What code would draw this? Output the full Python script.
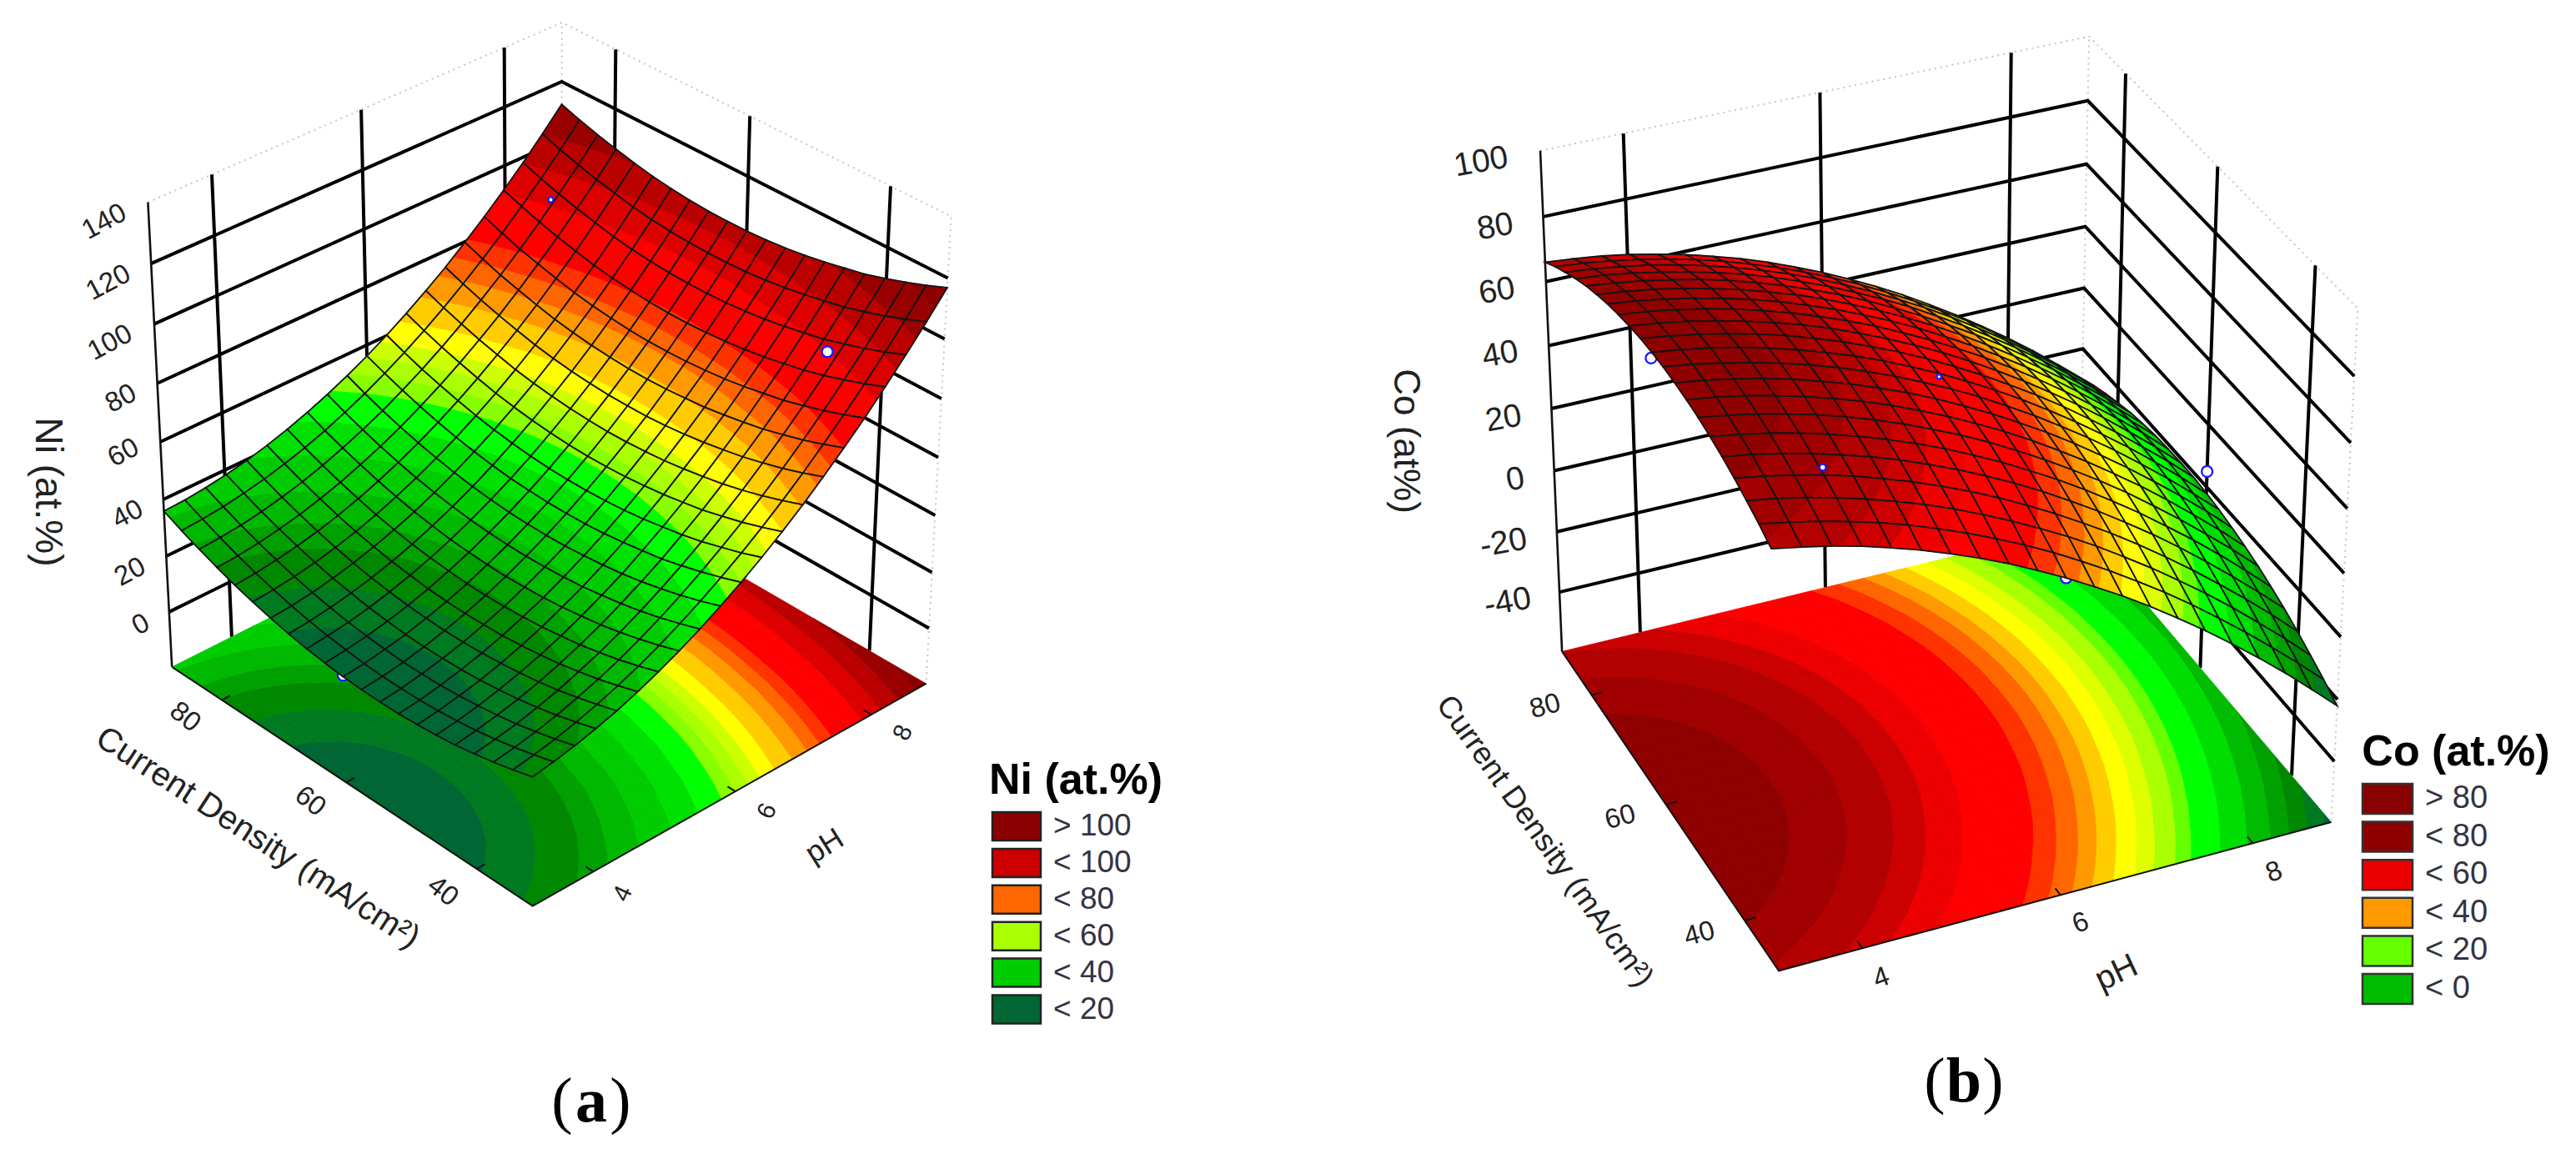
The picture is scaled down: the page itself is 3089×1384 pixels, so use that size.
import numpy as np, altair as alt

PH_TICKS = [4, 6, 8]
CD_TICKS = [40, 60, 80]
N = 20

# Surface heights: rows run over pH (low to high), columns over current density (low to high)
NI_GRID = [
[24.9,23.0,21.4,20.0,18.8,18.0,17.4,17.0,16.9,17.1,17.5,18.2,19.1,20.3,21.8,23.5,25.4,27.7,30.2,32.9,35.9],
[26.1,24.2,22.5,21.1,19.9,19.0,18.3,17.9,17.8,17.9,18.3,19.0,19.9,21.0,22.4,24.1,26.0,28.2,30.7,33.4,36.3],
[27.7,25.7,24.0,22.5,21.3,20.4,19.7,19.2,19.1,19.1,19.5,20.1,20.9,22.1,23.4,25.1,27.0,29.1,31.5,34.2,37.1],
[29.6,27.6,25.8,24.3,23.0,22.1,21.3,20.9,20.7,20.7,21.0,21.6,22.4,23.5,24.8,26.4,28.3,30.4,32.7,35.4,38.2],
[31.8,29.8,28.0,26.4,25.1,24.2,23.4,22.9,22.6,22.6,22.9,23.4,24.2,25.2,26.5,28.1,29.9,32.0,34.3,36.9,39.7],
[34.5,32.4,30.5,29.0,27.6,26.6,25.8,25.2,25.0,24.9,25.1,25.6,26.4,27.3,28.6,30.1,31.9,34.0,36.2,38.8,41.6],
[37.5,35.3,33.4,31.8,30.4,29.4,28.5,28.0,27.6,27.5,27.7,28.2,28.9,29.8,31.0,32.5,34.3,36.3,38.5,41.0,43.8],
[40.8,38.6,36.7,35.0,33.6,32.6,31.7,31.0,30.7,30.5,30.7,31.1,31.7,32.7,33.8,35.3,37.0,39.0,41.2,43.6,46.4],
[44.5,42.3,40.3,38.6,37.2,36.1,35.1,34.5,34.1,33.9,34.0,34.4,35.0,35.9,37.0,38.4,40.1,42.0,44.2,46.6,49.3],
[48.6,46.3,44.3,42.6,41.1,39.9,39.0,38.3,37.8,37.6,37.7,38.0,38.6,39.4,40.5,41.9,43.5,45.4,47.5,49.9,52.6],
[53.0,50.7,48.7,46.9,45.3,44.2,43.2,42.4,41.9,41.7,41.7,42.0,42.5,43.3,44.4,45.7,47.3,49.2,51.3,53.6,56.2],
[57.8,55.4,53.4,51.5,50.0,48.8,47.7,46.9,46.4,46.1,46.1,46.3,46.8,47.6,48.6,49.9,51.5,53.3,55.3,57.6,60.2],
[62.9,60.5,58.4,56.6,54.9,53.7,52.6,51.8,51.2,50.9,50.8,51.0,51.5,52.2,53.2,54.4,56.0,57.8,59.8,62.0,64.6],
[68.4,66.0,63.8,61.9,60.3,59.0,57.9,57.0,56.4,56.0,55.9,56.1,56.5,57.2,58.1,59.3,60.9,62.6,64.6,66.8,69.3],
[74.3,71.8,69.6,67.7,66.0,64.7,63.5,62.6,61.9,61.5,61.4,61.5,61.9,62.5,63.4,64.6,66.1,67.8,69.7,71.9,74.3],
[80.5,78.0,75.7,73.8,72.0,70.7,69.5,68.5,67.9,67.4,67.2,67.3,67.7,68.2,69.1,70.2,71.7,73.4,75.2,77.4,79.8],
[87.0,84.5,82.2,80.2,78.4,77.1,75.8,74.8,74.1,73.6,73.4,73.4,73.7,74.3,75.1,76.2,77.7,79.3,81.1,83.2,85.6],
[94.0,91.4,89.1,87.0,85.2,83.8,82.5,81.5,80.7,80.2,79.9,79.9,80.2,80.7,81.5,82.5,84.0,85.5,87.3,89.4,91.7],
[101.3,98.6,96.3,94.2,92.3,90.9,89.6,88.5,87.7,87.1,86.8,86.8,87.0,87.5,88.2,89.2,90.6,92.2,93.9,95.9,98.2],
[108.9,106.2,103.8,101.7,99.8,98.4,97.0,95.9,95.0,94.4,94.1,94.0,94.2,94.6,95.3,96.3,97.7,99.1,100.9,102.8,105.1],
[116.9,114.2,111.8,109.6,107.6,106.2,104.8,103.6,102.7,102.1,101.7,101.6,101.7,102.1,102.8,103.7,105.0,106.5,108.2,110.1,112.3],
]
CO_GRID = [
[70.0,72.5,74.6,76.5,78.2,79.5,80.6,81.3,81.8,82.1,82.0,81.7,81.0,80.1,79.0,77.5,75.8,73.7,71.4,68.9,66.0],
[68.4,70.9,73.2,75.1,76.8,78.1,79.2,80.1,80.6,80.9,80.8,80.5,80.0,79.1,78.0,76.5,74.8,72.9,70.6,68.1,65.2],
[66.6,69.1,71.4,73.3,75.0,76.5,77.6,78.5,79.0,79.3,79.4,79.1,78.6,77.7,76.6,75.3,73.6,71.7,69.4,66.9,64.2],
[64.4,66.9,69.2,71.3,73.0,74.5,75.6,76.5,77.2,77.5,77.6,77.3,76.8,76.1,75.0,73.7,72.0,70.1,68.0,65.5,62.8],
[61.8,64.5,66.8,68.9,70.6,72.1,73.4,74.3,75.0,75.3,75.4,75.3,74.8,74.1,73.0,71.7,70.2,68.3,66.2,63.7,61.0],
[59.0,61.7,64.0,66.1,68.0,69.5,70.8,71.7,72.4,72.9,73.0,72.9,72.4,71.7,70.8,69.5,68.0,66.1,64.0,61.7,59.0],
[55.8,58.5,61.0,63.1,65.0,66.5,67.8,68.9,69.6,70.1,70.2,70.1,69.8,69.1,68.2,66.9,65.4,63.7,61.6,59.3,56.6],
[52.4,55.1,57.6,59.7,61.6,63.3,64.6,65.7,66.4,66.9,67.2,67.1,66.8,66.1,65.2,64.1,62.6,60.9,58.8,56.5,54.0],
[48.6,51.3,53.8,56.1,58.0,59.7,61.0,62.1,63.0,63.5,63.8,63.7,63.4,62.9,62.0,60.9,59.4,57.7,55.8,53.5,51.0],
[44.4,47.3,49.8,52.1,54.0,55.7,57.2,58.3,59.2,59.7,60.0,60.1,59.8,59.3,58.4,57.3,56.0,54.3,52.4,50.1,47.6],
[40.0,42.9,45.4,47.7,49.8,51.5,53.0,54.1,55.0,55.7,56.0,56.1,55.8,55.3,54.6,53.5,52.2,50.5,48.6,46.5,44.0],
[35.2,38.1,40.8,43.1,45.2,46.9,48.4,49.7,50.6,51.3,51.6,51.7,51.6,51.1,50.4,49.3,48.0,46.5,44.6,42.5,40.0],
[30.2,33.1,35.8,38.1,40.2,42.1,43.6,44.9,45.8,46.5,47.0,47.1,47.0,46.5,45.8,44.9,43.6,42.1,40.2,38.1,35.8],
[24.8,27.7,30.4,32.9,35.0,36.9,38.4,39.7,40.8,41.5,42.0,42.1,42.0,41.7,41.0,40.1,38.8,37.3,35.6,33.5,31.2],
[19.0,22.1,24.8,27.3,29.4,31.3,33.0,34.3,35.4,36.1,36.6,36.9,36.8,36.5,35.8,34.9,33.8,32.3,30.6,28.5,26.2],
[13.0,16.1,18.8,21.3,23.6,25.5,27.2,28.5,29.6,30.5,31.0,31.3,31.2,30.9,30.4,29.5,28.4,26.9,25.2,23.3,21.0],
[6.6,9.7,12.6,15.1,17.4,19.3,21.0,22.5,23.6,24.5,25.0,25.3,25.4,25.1,24.6,23.7,22.6,21.3,19.6,17.7,15.4],
[0.0,3.1,6.0,8.5,10.8,12.9,14.6,16.1,17.2,18.1,18.8,19.1,19.2,18.9,18.4,17.7,16.6,15.3,13.6,11.7,9.6],
[-7.0,-3.9,-1.0,1.7,4.0,6.1,7.8,9.3,10.6,11.5,12.2,12.5,12.6,12.5,12.0,11.3,10.2,8.9,7.4,5.5,3.4],
[-14.4,-11.1,-8.2,-5.5,-3.2,-1.1,0.8,2.3,3.6,4.5,5.2,5.7,5.8,5.7,5.2,4.5,3.6,2.3,0.8,-1.1,-3.2],
[-22.0,-18.7,-15.8,-13.1,-10.6,-8.5,-6.6,-5.1,-3.8,-2.7,-2.0,-1.5,-1.4,-1.5,-1.8,-2.5,-3.4,-4.7,-6.2,-7.9,-10.0],
]

NI_BANDS = [(20.5,"#006633"),(24,"#007a20"),(28,"#008800"),(31,"#00a000"),(35,"#00b800"),(40,"#00cc00"),(45,"#00e000"),(50,"#00ff00"),(53,"#88ff00"),(56,"#aaff00"),(59,"#ccff00"),(63,"#ffff00"),(68,"#ffcc00"),(72.5,"#ff9900"),(76.5,"#ff6600"),(80.5,"#ff3300"),(91,"#ff0000"),(98,"#dd0000"),(105,"#bb0000"),(112,"#990000"),(999,"#8b0000")]
CO_BANDS = [(-20,"#006633"),(-15,"#007a20"),(-10,"#008800"),(-5,"#00a000"),(1,"#00bb00"),(7.6,"#00dd00"),(14.5,"#00ff00"),(18,"#66ff00"),(22.6,"#aaff00"),(26.4,"#ddff00"),(30.6,"#ffff00"),(34.5,"#ffcc00"),(38,"#ff9900"),(42,"#ff6600"),(46,"#ff3300"),(57,"#ff0000"),(62,"#ee0000"),(66,"#cc0000"),(71,"#b30000"),(76,"#a00000"),(999,"#8f0000")]

NI_CAM = [(-1,-1,-20,638,1089),(-1,1,-20,203,801),(1,-1,-20,1114,823),(-1,1,140,179,240),(1,1,140,673.5,27.5),(1,-1,140,1141.5,260),(1,1,120,673.5,98.7),(1,-1,120,1135.8,333),(-1,1,120,179.6,317.6),(-1,1,40,195.4,600),(1,-1,0,1115,752),(-.707,-1,-20,706.6,1045.6),(0,-1,-20,879.5,949),(.707,-1,-20,1042,854),(-1,-.707,-20,576.5,1041.6),(-1,0,-20,418,938),(-1,.707,-20,268,837)]
CO_CAM = [(-1,-1,-60,2133.7,1166),(-1,1,-60,1872,782.4),(1,-1,-60,2795.6,988),(-1,1,100,1847.7,180),(1,-1,100,2827,369),(1,1,100,2505,45),(1,1,80,2503,121.4),(1,1,0,2498.7,417),(-1,1,0,1861,565),(1,-1,0,2809,764),(-.707,-1,-60,2231.6,1136),(0,-1,-60,2467,1072),(.707,-1,-60,2701,1010),(-1,.707,-60,1910,832),(-1,0,-60,2000,964.5),(-1,-.707,-60,2094,1105.5)]

# pH, current density, at.%
NI_POINTS_UNDER = [(6,31.7,56),(3.17,60,18)]
NI_POINTS_OVER = [(8,40,95,170),(7.9,80,99,40)]
CO_POINTS_UNDER = [(3.9,80,44),(6,31.7,40),(8.83,60,5)]
CO_POINTS_OVER = [(4,40,74,60),(6,60,55,30)]

def cam(pairs):
    A = []
    for X, Y, Z, x, y in pairs:
        w = [X, Y, Z/100, 1]
        A.append(w + [0,0,0,0] + [-x/1000*v for v in w])
        A.append([0,0,0,0] + w + [-y/1000*v for v in w])
    return np.linalg.svd(np.array(A))[2][-1].reshape(3,4)

def prj(P, p, d, z):
    v = P @ np.array([p, d, z/100, 1.0])
    return [round(float(v[0]/v[2]*1000),1), round(float(v[1]/v[2]*1000),1)]

def clip(poly, lo, hi):
    def cut(pts, keep, lim):
        out = []
        for k in range(len(pts)):
            a, b = pts[k], pts[(k+1) % len(pts)]
            ka, kb = keep(a[2]), keep(b[2])
            if ka: out.append(a)
            if ka != kb:
                t = (lim-a[2])/(b[2]-a[2])
                out.append((a[0]+t*(b[0]-a[0]), a[1]+t*(b[1]-a[1]), lim))
        return out
    pts = cut(poly, lambda v: v >= lo, lo)
    if pts: pts = cut(pts, lambda v: v <= hi, hi)
    return pts

def feat(kind, coords, fill, stroke, sw):
    if kind == "Polygon": coords = [coords + [coords[0]]]
    return {"type":"Feature","properties":{"f":fill,"s":stroke,"w":sw},"geometry":{"type":kind,"coordinates":coords}}

def cell_bands(grid, bands, i, j):
    u = lambda k: k/10-1
    q = [(u(i),u(j),grid[i][j]),(u(i+1),u(j),grid[i+1][j]),(u(i+1),u(j+1),grid[i+1][j+1]),(u(i),u(j+1),grid[i][j+1])]
    lo = -999
    res = []
    for hi, col in bands:
        pts = clip(q, lo, hi)
        if len(pts) >= 3: res.append((pts, col))
        lo = hi
    return q, res

def backdrop(P, grid, bands, zlo, zhi, zstep):
    solid, dots = [], []
    nph = [(v-6)/2.83 for v in PH_TICKS]
    ncd = [(v-60)/28.3 for v in CD_TICKS]
    for z in range(zlo+zstep, zhi, zstep):
        solid.append(feat("LineString",[prj(P,-1,1,z),prj(P,1,1,z),prj(P,1,-1,z)],"transparent","#000000",4))
    for a in nph:
        solid.append(feat("LineString",[prj(P,a,1,zlo),prj(P,a,1,zhi)],"transparent","#000000",4))
    for a in ncd:
        solid.append(feat("LineString",[prj(P,1,a,zlo),prj(P,1,a,zhi)],"transparent","#000000",4))
    solid.append(feat("LineString",[prj(P,-1,1,zlo),prj(P,-1,1,zhi)],"transparent","#111111",2.6))
    for i in range(N):
        for j in range(N):
            for pts, col in cell_bands(grid,bands,i,j)[1]:
                solid.append(feat("Polygon",[prj(P,a,b,zlo) for a,b,_ in pts],col,col,0.8))
    solid.append(feat("LineString",[prj(P,-1,1,zlo),prj(P,-1,-1,zlo),prj(P,1,-1,zlo)],"transparent","#111111",2))
    for a in nph:
        solid.append(feat("LineString",[prj(P,a,-1,zlo),prj(P,a,-.96,zlo)],"transparent","#111111",2))
    for a in ncd:
        solid.append(feat("LineString",[prj(P,-1,a,zlo),prj(P,-.96,a,zlo)],"transparent","#111111",2))
    dots.append(feat("LineString",[prj(P,-1,1,zhi),prj(P,1,1,zhi),prj(P,1,-1,zhi),prj(P,1,-1,zlo)],"transparent","#c4c4c4",2))
    dots.append(feat("LineString",[prj(P,1,1,zlo),prj(P,1,1,zhi)],"transparent","#c4c4c4",2))
    return solid, dots

def surface(P, grid, bands):
    out = []
    for i, j in sorted(((i,j) for i in range(N) for j in range(N)), key=lambda c: -(c[0]+c[1])):
        q, res = cell_bands(grid,bands,i,j)
        for pts, col in res:
            out.append(feat("Polygon",[prj(P,*t) for t in pts],col,col,0.8))
        out.append(feat("Polygon",[prj(P,*t) for t in q],"transparent","#141414",1.8))
    return out

PN = cam(NI_CAM); PC = cam(CO_CAM)
s1, d1 = backdrop(PN, NI_GRID, NI_BANDS, -20, 140, 20)
s2, d2 = backdrop(PC, CO_GRID, CO_BANDS, -60, 100, 20)
surf = surface(PN, NI_GRID, NI_BANDS) + surface(PC, CO_GRID, CO_BANDS)

NI_LEG_LABELS = ["> 100","< 100","< 80","< 60","< 40","< 20"]
NI_LEG_COLORS = ["#8b0000","#cc0000","#ff6600","#aaff00","#00cc00","#006633"]
CO_LEG_LABELS = ["> 80","< 80","< 60","< 40","< 20","< 0"]
CO_LEG_COLORS = ["#8b0000","#8f0000","#ee0000","#ff9900","#66ff00","#00bb00"]
legend, txt = [], []
def T(x, y, t, a=0, s=36, c="#222222"):
    txt.append({"lon":x,"lat":y,"t":t,"a":a%360,"s":s,"c":c})
for k,(l,c) in enumerate(zip(NI_LEG_LABELS,NI_LEG_COLORS)):
    y0 = 974+43.9*k
    legend.append(feat("Polygon",[[1190,y0],[1248,y0],[1248,y0+34],[1190,y0+34]],c,"#222222",2.5))
for k,(l,c) in enumerate(zip(CO_LEG_LABELS,CO_LEG_COLORS)):
    y0 = 940+45.6*k
    legend.append(feat("Polygon",[[2833,y0],[2893,y0],[2893,y0+36],[2833,y0+36]],c,"#333333",2.5))

for t,x,y in zip(["140","120","100","80","60","40","20","0"],[125,130,132,145,148,153,156,169],[266,339,411,478,543,617,686,749]):
    T(x,y,t,-28,33)
T(57,590,"Ni (at.%)",90,46)
for t,x,y in zip(["4","6","8"],[747,920,1083],[1072,973,879]): T(x,y,t,-65,30)
T(989,1015,"pH",-32,36)
for t,x,y in zip(["80","60","40"],[222,372,531],[860,961,1069]): T(x,y,t,38,33)
T(309,1005,"Current Density (mA/cm²)",33,40)
for t,x,y in zip(["100","80","60","40","20","0","-20","-40"],[1776,1793,1795,1799,1803,1817,1803,1808],[194,272,349,425,502,575,651,722]):
    T(x,y,t,-10,39)
T(1685,529,"Co (at%)",90,44)
for t,x,y in zip(["4","6","8"],[2256,2495,2727],[1173,1107,1046]): T(x,y,t,-20,33)
T(2538,1167,"pH",-25,40)
for t,x,y in zip(["80","60","40"],[1853,1943,2038],[847,980,1120]): T(x,y,t,-15,33)
T(1852,1009,"Current Density (mA/cm²)",54.5,37)
LEFT = []
for k,l in enumerate(NI_LEG_LABELS):
    LEFT.append({"lon":1263,"lat":974+43.9*k+17,"t":l,"a":0,"s":37,"c":"#333344"})
for k,l in enumerate(CO_LEG_LABELS):
    LEFT.append({"lon":2908,"lat":940+45.6*k+18,"t":l,"a":0,"s":38,"c":"#333344"})
BOLD = [{"lon":1290,"lat":936,"t":"Ni (at.%)"},{"lon":2945,"lat":902,"t":"Co (at.%)"}]
SERIF = [{"lon":674,"lat":1322,"t":"("},{"lon":744,"lat":1322,"t":")"},{"lon":2320,"lat":1298,"t":"("},{"lon":2390,"lat":1298,"t":")"}]
SERIFB = [{"lon":709,"lat":1322,"t":"a"},{"lon":2355,"lat":1298,"t":"b"}]

PRJ = dict(type="identity", scale=1, translate=[-8,-8])
def shapes(fs, **kw):
    d = alt.InlineData(values={"type":"FeatureCollection","features":fs}, format=alt.DataFormat(property="features",type="json"))
    return alt.Chart(d).mark_geoshape(**kw).encode(
        fill=alt.Fill("properties.f:N",scale=None),
        stroke=alt.Stroke("properties.s:N",scale=None),
        strokeWidth=alt.StrokeWidth("properties.w:Q",scale=None)).project(**PRJ)
def points(rows):
    return alt.Chart(alt.InlineData(values=rows)).mark_point(filled=False,fill="white",stroke="#1a1aff",strokeWidth=2.4,opacity=1).encode(
        longitude="lon:Q",latitude="lat:Q",size=alt.Size("r:Q",scale=None)).project(**PRJ)
def texts(rows, **kw):
    return alt.Chart(alt.InlineData(values=rows)).mark_text(baseline="middle",**kw).encode(
        longitude="lon:Q",latitude="lat:Q",text="t:N",
        angle=alt.Angle("a:Q",scale=None),size=alt.Size("s:Q",scale=None),color=alt.Color("c:N",scale=None)).project(**PRJ)
def fixed(rows, **kw):
    return alt.Chart(alt.InlineData(values=rows)).mark_text(baseline="middle",**kw).encode(
        longitude="lon:Q",latitude="lat:Q",text="t:N").project(**PRJ)
def pts(P, arr):
    out = []
    for row in arr:
        x, y = prj(P,(row[0]-6)/2.83,(row[1]-60)/28.3,row[2])
        out.append({"lon":x,"lat":y,"r":row[3] if len(row) > 3 else 170})
    return out

chart = alt.layer(
    shapes(d1+d2, strokeDash=[2,5]),
    shapes(s1+s2),
    points(pts(PN,NI_POINTS_UNDER)+pts(PC,CO_POINTS_UNDER)),
    shapes(surf),
    points(pts(PN,NI_POINTS_OVER)+pts(PC,CO_POINTS_OVER)),
    shapes(legend),
    texts(txt, font="Liberation Sans", align="center"),
    texts(LEFT, font="Liberation Sans", align="left"),
    fixed(BOLD, font="Liberation Sans", fontWeight="bold", fontSize=52, color="#000000", align="center"),
    fixed(SERIF, font="Liberation Serif", fontSize=76, color="#000000", align="center"),
    fixed(SERIFB, font="Liberation Serif", fontWeight="bold", fontSize=76, color="#000000", align="center"),
).properties(width=3073,height=1368,padding=0,autosize="none").configure_view(stroke=None)
chart.save("out.html", embed_options={"renderer":"svg","actions":False})
